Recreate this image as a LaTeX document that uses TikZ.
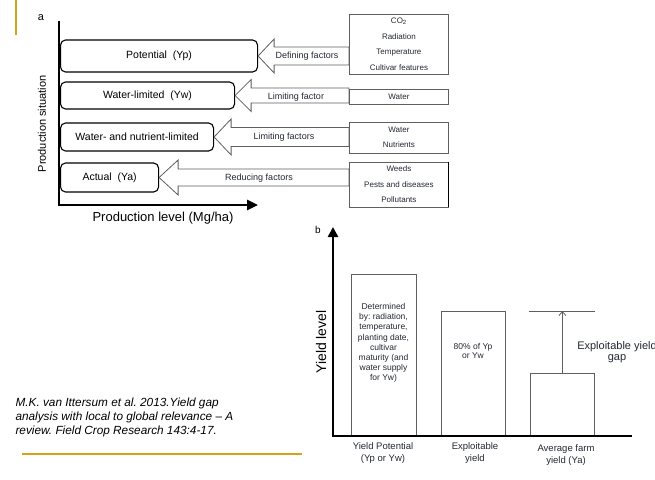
\documentclass[tikz,border=0pt]{standalone}
\usepackage{fontspec}
\setmainfont{Liberation Sans}
\usetikzlibrary{arrows.meta,calc}
\definecolor{gold}{RGB}{212,163,26}
\definecolor{txt}{RGB}{35,40,50}
\definecolor{edge}{RGB}{95,95,95}
\newcommand\fs[2]{\fontsize{#1}{#2}\selectfont}
\newcommand\fatarr[5]{%
  \path[fatarrow] let \p1=(#1.east), \p2=(#2.west) in
  (\p1) -- (\x1+#3pt,\y1+#4pt) -- (\x1+#3pt,\y1+#5pt) -- (\x2,\y1+#5pt)
  -- (\x2,\y1-#5pt) -- (\x1+#3pt,\y1-#5pt) -- (\x1+#3pt,\y1-#4pt) -- cycle;}
\frenchspacing
\begin{document}
\begin{tikzpicture}[x=1pt,y=-1pt,
  sitbox/.style={draw,rounded corners=5pt,line width=1.1pt,inner sep=0pt,anchor=west,font=\fs{10.5}{12}},
  factorbox/.style={draw=edge,line width=0.8pt,inner sep=0pt,anchor=west,align=center,minimum width=99pt,font=\fs{8}{15.5},text=txt},
  fatarrow/.style={draw=edge,line width=0.8pt,line join=miter},
  arrlabel/.style={font=\fs{9}{11},text=txt},
  axisline/.style={line width=2.6pt,line join=miter},
  bar/.style={draw=edge,line width=0.8pt,inner sep=0pt,anchor=south west},
  barlabel/.style={align=center,font=\fs{9.5}{12.5},text=txt},
  goldline/.style={draw=gold,line width=1.3pt}]
\useasboundingbox (0,0) rectangle (655,479);
\clip (0,0) rectangle (655,479);
\fill[white] (0,0) rectangle (655,479);

% gold decorations
\coordinate (g1a) at (16,0); \coordinate (g1b) at (16,35);
\draw[goldline] (g1a) -- (g1b);
\coordinate (g2a) at (22,454); \coordinate (g2b) at (302,454);
\draw[goldline] (g2a) -- (g2b);

% ---------- panel a ----------
\node[font=\fs{11}{13}] (la) at (41,18) {a};
\node[rotate=90,font=\fs{11}{13}] (ylab) at (42,124) {Production situation};
\node[font=\fs{13}{15}] (xlab) at (163,218) {Production level (Mg/ha)};

\node[sitbox,minimum width=197pt,minimum height=32pt] (pot) at (60,56) {Potential~~(Yp)};
\node[sitbox,minimum width=174pt,minimum height=27pt] (wl) at (60,95.5) {Water-limited~~(Yw)};
\node[sitbox,minimum width=153pt,minimum height=28pt] (wnl) at (60,137) {Water-~and nutrient-limited};
\node[sitbox,minimum width=98pt,minimum height=29pt] (act) at (60,177.5) {Actual~~(Ya)};

\node[factorbox,minimum height=60pt] (defbox) at (349,44) {CO\textsubscript{2}\\Radiation\\Temperature\\Cultivar features};
\node[factorbox,minimum height=15pt] (watbox) at (349,96.5) {Water};
\node[factorbox,minimum height=31pt] (wnbox) at (349,137.5) {Water\\Nutrients};
\node[factorbox,minimum height=45pt] (redbox) at (349,184.5) {Weeds\\Pests and diseases\\Pollutants};
\draw[line width=1.2pt] (redbox.north east) -- (redbox.south east);

\fatarr{pot}{defbox}{16}{17}{9}
\fatarr{wl}{watbox}{16}{16}{7.5}
\fatarr{wnl}{wnbox}{17}{18}{9.5}
\fatarr{act}{redbox}{19}{17.5}{8.5}

\node[arrlabel] (ldef) at (307,56) {Defining factors};
\node[arrlabel] (llim) at (296,97) {Limiting factor};
\node[arrlabel] (llims) at (284,137) {Limiting factors};
\node[arrlabel] (lred) at (259,178) {Reducing factors};

\coordinate (aTop) at (59,21);
\coordinate (aO) at (59,205);
\coordinate (aRight) at (258,205);
\draw[axisline,-{Triangle[length=11pt,width=10pt]}] (aTop) -- (aO) -- (aRight);

% ---------- panel b ----------
\node[font=\fs{10}{12}] (lb) at (318,230) {b};
\node[rotate=90,font=\fs{14}{16}] (ylabb) at (321,342) {Yield level};

\node[bar,minimum width=65pt,minimum height=161pt] (bar1) at (351,436) {};
\node[bar,minimum width=64pt,minimum height=124pt] (bar2) at (441,436) {};
\node[bar,minimum width=64pt,minimum height=62pt] (bar3) at (530,436) {};

\node[align=center,font=\fs{8.5}{10.2},text=txt] (t1) at (383.5,343)
  {Determined\\by: radiation,\\temperature,\\planting date,\\cultivar\\maturity (and\\water supply\\for Yw)};
\node[align=center,font=\fs{8.5}{9},text=txt] (t2) at (473,351) {80\% of Yp\\or Yw};

\coordinate (gapL) at (529,311);
\coordinate (gapR) at (595,311);
\draw[draw=edge,line width=0.9pt] (gapL) -- (gapR);
\draw[draw=edge,line width=0.8pt,-{Straight Barb[length=4pt,width=7pt]}] (bar3.north) -- (bar3.north |- gapL);
\node[align=center,font=\fs{11}{11.5},text=txt] (gaplab) at (617,352) {Exploitable yield\\gap};

\coordinate (bTop) at (333,227);
\coordinate (bO) at (333,436);
\coordinate (bRight) at (632,436);
\draw[axisline,{Triangle[length=10pt,width=10pt]}-] (bTop) -- (bO) -- (bRight);

\node[barlabel] (c1) at (383,453) {Yield Potential\\(Yp or Yw)};
\node[barlabel] (c2) at (475,453) {Exploitable\\yield};
\node[barlabel] (c3) at (566,455) {Average farm\\yield (Ya)};

% citation
\node[anchor=west,align=left,font=\itshape\fs{11.8}{14}] (cite) at (12,417)
  {M.K. van Ittersum et al. 2013.Yield gap\\analysis with local to global relevance -- A\\review. Field Crop Research 143:4-17.};
\end{tikzpicture}
\end{document}
